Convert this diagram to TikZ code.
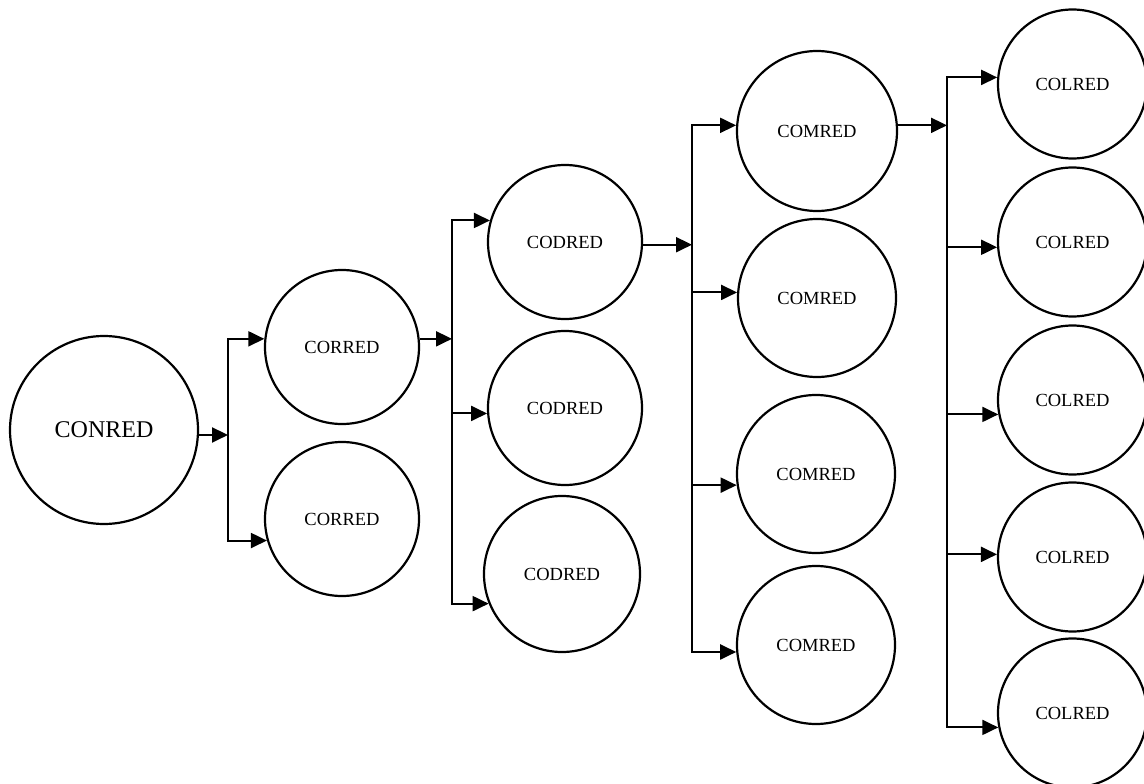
\documentclass[tikz,border=0pt]{standalone}
\usepackage{fontspec}
\setmainfont{Liberation Serif}
\usetikzlibrary{arrows.meta}
\begin{document}
\begin{tikzpicture}[x=1pt,y=-1pt,
  stage/.style={circle,draw,line width=2.2pt,inner sep=0pt,font=\fontsize{18.5}{20}\selectfont},
  bigstage/.style={stage,minimum size=188pt,font=\fontsize{24}{26}\selectfont},
  conn/.style={line width=2pt},
  bus/.style={conn,line cap=rect},
  arr/.style={conn,-{Triangle[length=16pt,width=15pt]}}]
\useasboundingbox (0,0) rectangle (1144,784);
\clip (0,0) rectangle (1144,784);
% stage 0
\node[bigstage] (n0) at (104,430) {CONRED};
% stage 1
\node[stage,minimum size=154pt] (c1) at (342,347) {CORRED};
\node[stage,minimum size=154pt] (c2) at (342,519) {CORRED};
% stage 2
\node[stage,minimum size=154pt] (d1) at (565,242) {CODRED};
\node[stage,minimum size=154pt] (d2) at (565,408) {CODRED};
\node[stage,minimum size=156pt] (d3) at (562,574) {CODRED};
% stage 3
\node[stage,minimum size=160pt] (m1) at (817,131) {COMRED};
\node[stage,minimum size=158pt] (m2) at (817,298) {COMRED};
\node[stage,minimum size=158pt] (m3) at (816,474) {COMRED};
\node[stage,minimum size=158pt] (m4) at (816,645) {COMRED};
% stage 4
\node[stage,minimum size=149pt] (l1) at (1072.5,84) {COLRED};
\node[stage,minimum size=149pt] (l2) at (1072.5,242) {COLRED};
\node[stage,minimum size=149pt] (l3) at (1072.5,400) {COLRED};
\node[stage,minimum size=149pt] (l4) at (1072.5,557) {COLRED};
\node[stage,minimum size=149pt] (l5) at (1072.5,713) {COLRED};
% bus x positions
\coordinate (b1) at (228,0);
\coordinate (b2) at (452,0);
\coordinate (b3) at (692,0);
\coordinate (b4) at (947,0);
% bus 1
\draw[arr] (n0.-3) -- (n0.-3 -| b1);
\draw[bus] (c1.174 -| b1) -- (c2.196 -| b1);
\draw[arr] (c1.174 -| b1) -- (c1.174);
\draw[arr] (c2.196 -| b1) -- (c2.196);
% bus 2
\draw[arr] (c1.6) -- (c1.6 -| b2);
\draw[bus] (d1.164 -| b2) -- (d3.202 -| b2);
\draw[arr] (d1.164 -| b2) -- (d1.164);
\draw[arr] (d2.184 -| b2) -- (d2.184);
\draw[arr] (d3.202 -| b2) -- (d3.202);
% bus 3
\draw[arr] (d1.-2) -- (d1.-2 -| b3);
\draw[bus] (m1.176 -| b3) -- (m4.185 -| b3);
\draw[arr] (m1.176 -| b3) -- (m1.176);
\draw[arr] (m2.176 -| b3) -- (m2.176);
\draw[arr] (m3.188 -| b3) -- (m3.188);
\draw[arr] (m4.185 -| b3) -- (m4.185);
% bus 4
\draw[arr] (m1.4) -- (m1.4 -| b4);
\draw[bus] (l1.175 -| b4) -- (l5.191 -| b4);
\draw[arr] (l1.175 -| b4) -- (l1.175);
\draw[arr] (l2.184 -| b4) -- (l2.184);
\draw[arr] (l3.191 -| b4) -- (l3.191);
\draw[arr] (l4.178 -| b4) -- (l4.178);
\draw[arr] (l5.191 -| b4) -- (l5.191);
\end{tikzpicture}
\end{document}
